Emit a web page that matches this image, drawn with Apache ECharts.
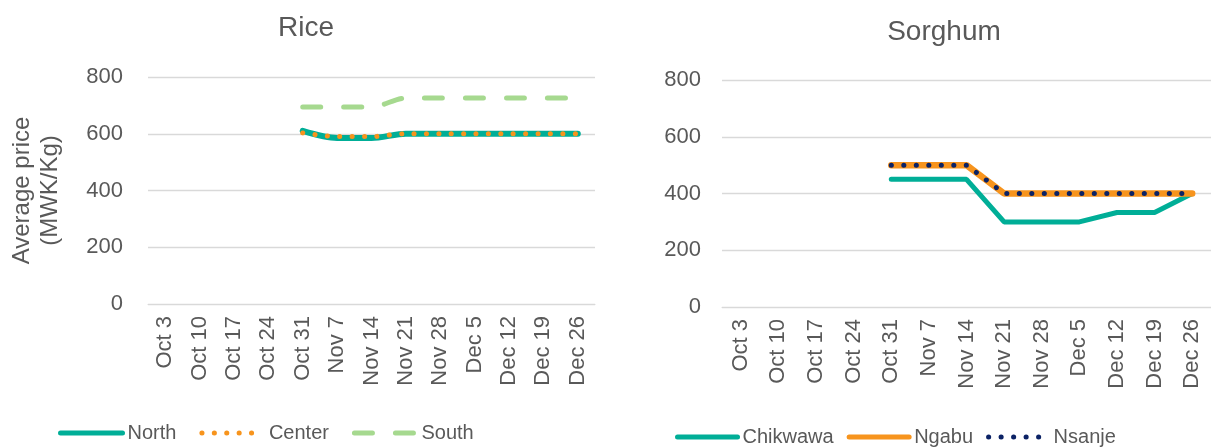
<!DOCTYPE html>
<html><head><meta charset="utf-8">
<script src="https://cdn.jsdelivr.net/npm/echarts@6/dist/echarts.min.js"></script>
<style>html,body{margin:0;padding:0;background:#fff}#c{width:1211px;height:448px}</style>
</head><body><div id="c"></div>
<script>
const weeks = ['Oct 3','Oct 10','Oct 17','Oct 24','Oct 31','Nov 7','Nov 14','Nov 21','Nov 28','Dec 5','Dec 12','Dec 19','Dec 26'];
const riceNorth  = [null,null,null,null,610,585,585,600,600,600,600,600,600];
const riceCenter = [null,null,null,null,603,590,590,600,600,600,600,600,600];
const riceSouth  = [null,null,null,null,694,694,694,726,726,726,726,726,726];
const sorgChikwawa = [null,null,null,null,450,450,450,300,300,300,333,333,400];
const sorgNgabu    = [null,null,null,null,500,500,500,400,400,400,400,400,400];
const sorgNsanje   = [null,null,null,null,500,500,500,400,400,400,400,400,400];
const yTicks = [0,200,400,600,800];

const FONT = '"Liberation Sans", Arial, sans-serif';
const GREY = '#595959';
const chart = echarts.init(document.getElementById('c'), null, {renderer:'canvas'});
function xAxis(i){return {type:'category',gridIndex:i,data:weeks,boundaryGap:true,
  axisLine:{show:true,lineStyle:{color:'#d9d9d9',width:1}},axisTick:{show:false},
  axisLabel:{rotate:90,fontSize:22,color:GREY,fontFamily:FONT,margin:12,interval:0}};}
function yAxis(i,extra){return Object.assign({type:'value',gridIndex:i,min:yTicks[0],max:yTicks[yTicks.length-1],interval:200,
  axisLine:{show:false},axisTick:{show:false},
  splitLine:{lineStyle:{color:'#d9d9d9',width:1.3}},
  axisLabel:{fontSize:22,color:GREY,fontFamily:FONT,margin:i===0?25:21}},extra||{});}
const legendCommon = {itemHeight:14,padding:0,
  itemStyle:{opacity:0},lineStyle:{width:5,cap:'round'},
  textStyle:{fontSize:20,color:GREY,fontFamily:FONT}};
chart.setOption({
  animation:false,
  textStyle:{fontFamily:FONT},
  title:[
    {text:'Rice',left:301,top:9,textAlign:'center',textStyle:{fontSize:28,fontWeight:'normal',color:GREY,fontFamily:FONT}},
    {text:'Sorghum',left:939,top:13,textAlign:'center',textStyle:{fontSize:28,fontWeight:'normal',color:GREY,fontFamily:FONT}}
  ],
  grid:[
    {left:148,right:616,top:77,bottom:144},
    {left:722,right:-4,top:80,bottom:141}
  ],
  xAxis:[xAxis(0),xAxis(1)],
  yAxis:[
    yAxis(0,{name:'Average price\n(MWK/Kg)',nameLocation:'middle',nameGap:84,nameRotate:90,
      nameTextStyle:{fontSize:24,color:GREY,fontFamily:FONT,lineHeight:28}}),
    yAxis(1)
  ],
  legend:[
    Object.assign({left:58,top:423,itemWidth:62,itemGap:23,data:['North','Center','South']},legendCommon),
    Object.assign({left:675,top:427,itemWidth:60,itemGap:13,data:['Chikwawa','Ngabu','Nsanje']},legendCommon)
  ],
  series:[
    {name:'North',type:'line',xAxisIndex:0,yAxisIndex:0,data:riceNorth,symbol:'none',smooth:0.3,
     lineStyle:{color:'#00AE97',width:6,cap:'round'},itemStyle:{color:'#00AE97'}},
    {name:'Center',type:'line',xAxisIndex:0,yAxisIndex:0,data:riceCenter,symbol:'none',smooth:0.3,
     lineStyle:{color:'#F7941D',width:5,type:[0.1,12.3],cap:'round'},itemStyle:{color:'#F7941D'}},
    {name:'South',type:'line',xAxisIndex:0,yAxisIndex:0,data:riceSouth,symbol:'none',smooth:0.3,
     lineStyle:{color:'#A6D98F',width:5,type:[18,23],cap:'round'},itemStyle:{color:'#A6D98F'}},
    {name:'Chikwawa',type:'line',xAxisIndex:1,yAxisIndex:1,data:sorgChikwawa,symbol:'none',
     lineStyle:{color:'#00AE97',width:5,cap:'round'},itemStyle:{color:'#00AE97'}},
    {name:'Ngabu',type:'line',xAxisIndex:1,yAxisIndex:1,data:sorgNgabu,symbol:'none',
     lineStyle:{color:'#F7941D',width:6.5,cap:'round'},itemStyle:{color:'#F7941D'}},
    {name:'Nsanje',type:'line',xAxisIndex:1,yAxisIndex:1,data:sorgNsanje,symbol:'none',
     lineStyle:{color:'#0B2265',width:5,type:[0.1,12.4],cap:'round'},itemStyle:{color:'#0B2265'}}
  ]
});
</script></body></html>
